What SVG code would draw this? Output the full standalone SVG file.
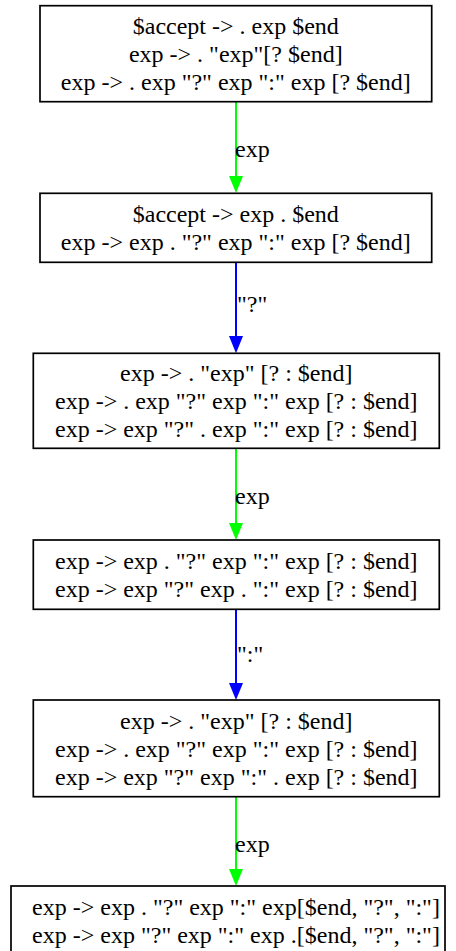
<svg xmlns="http://www.w3.org/2000/svg" width="456" height="951" viewBox="0 0 456 951" font-family="'Liberation Serif', 'Times New Roman', Times, serif">
<style>
.box{fill:#fff;stroke:#000;stroke-width:1.7}
.t{font-family:'Liberation Serif','Times New Roman',Times,serif;font-size:24px;fill:#000}
.c{text-anchor:middle}
.g{stroke:#00ff00;stroke-width:2;fill:none}
.b{stroke:#0000ff;stroke-width:2;fill:none}
</style>
<rect width="456" height="951" fill="#fff"/>
<g id="edges">
<path class="g" d="M236,102L236,176"/><path d="M229,176L243,176L236,193z" fill="#00ff00"/>
<path class="b" d="M236,262.3L236,336"/><path d="M229,336L243,336L236,353.3z" fill="#0000ff"/>
<path class="g" d="M236,448.3L236,523"/><path d="M229,523L243,523L236,540z" fill="#00ff00"/>
<path class="b" d="M236,609.3L236,683"/><path d="M229,683L243,683L236,700z" fill="#0000ff"/>
<path class="g" d="M236,796.7L236,869"/><path d="M229,869L243,869L236,886z" fill="#00ff00"/>
<text class="t" x="235" y="157">exp</text>
<text class="t" x="237" y="312">"?"</text>
<text class="t" x="235" y="504">exp</text>
<text class="t" x="237" y="662">":"</text>
<text class="t" x="235" y="852">exp</text>
</g>
<g id="n0">
<rect class="box" x="40" y="5.7" width="391.7" height="96"/>
<text class="t c" x="235.8" y="34.2">$accept -&gt; . exp $end</text>
<text class="t c" x="235.8" y="62.2">exp -&gt; . "exp"[? $end]</text>
<text class="t c" x="235.8" y="90.2">exp -&gt; . exp "?" exp ":" exp [? $end]</text>
</g>
<g id="n1">
<rect class="box" x="40" y="193.3" width="391.7" height="69"/>
<text class="t c" x="235.8" y="222.3">$accept -&gt; exp . $end</text>
<text class="t c" x="235.8" y="250.3">exp -&gt; exp . "?" exp ":" exp [? $end]</text>
</g>
<g id="n2">
<rect class="box" x="33.3" y="353.3" width="406" height="95"/>
<text class="t c" x="236.3" y="381.3">exp -&gt; . "exp" [? : $end]</text>
<text class="t c" x="236.3" y="409.3">exp -&gt; . exp "?" exp ":" exp [? : $end]</text>
<text class="t c" x="236.3" y="437.3">exp -&gt; exp "?" . exp ":" exp [? : $end]</text>
</g>
<g id="n3">
<rect class="box" x="33.3" y="540" width="406" height="69.3"/>
<text class="t c" x="236.3" y="569.2">exp -&gt; exp . "?" exp ":" exp [? : $end]</text>
<text class="t c" x="236.3" y="597.2">exp -&gt; exp "?" exp . ":" exp [? : $end]</text>
</g>
<g id="n4">
<rect class="box" x="33.3" y="700" width="406" height="96.7"/>
<text class="t c" x="236.3" y="728.8">exp -&gt; . "exp" [? : $end]</text>
<text class="t c" x="236.3" y="756.8">exp -&gt; . exp "?" exp ":" exp [? : $end]</text>
<text class="t c" x="236.3" y="784.8">exp -&gt; exp "?" exp ":" . exp [? : $end]</text>
</g>
<g id="n5">
<rect class="box" x="11" y="886" width="434" height="96"/>
<text class="t c" x="236" y="915">exp -&gt; exp . "?" exp ":" exp[$end, "?", ":"]</text>
<text class="t c" x="236" y="943">exp -&gt; exp "?" exp ":" exp .[$end, "?", ":"]</text>
</g>
</svg>
